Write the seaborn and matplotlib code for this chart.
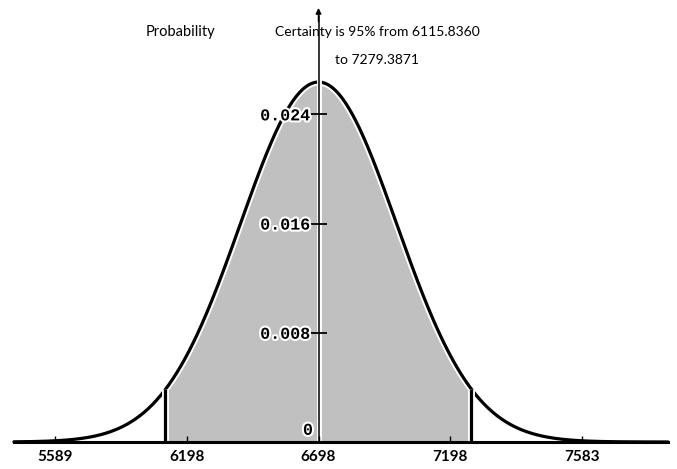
import numpy as np
import matplotlib
matplotlib.use("Agg")
import matplotlib.pyplot as plt
import matplotlib.patheffects as pe
import seaborn as sns

# ---- data ----
mean_value = 6698.0
sd_value = 296.8
peak_probability = 0.02637
certainty_low = 6115.8360
certainty_high = 7279.3871
x_tick_positions = [5698, 6198, 6698, 7198, 7698]
x_tick_labels = ["5589", "6198", "6698", "7198", "7583"]
y_tick_values = [0.008, 0.016, 0.024]
y_tick_labels = ["0.008", "0.016", "0.024"]
curve_start, curve_end = 5540, 8027

sns.set_theme(style="white")
plt.rcParams["font.family"] = ["Lato", "DejaVu Sans"]

fig = plt.figure(figsize=(6.77, 4.69), dpi=100)
ax = fig.add_axes([0, 0, 1, 1])
ax.set_facecolor("white")
ax.set_axisbelow(False)

xs = np.linspace(curve_start, curve_end, 800)
ys = peak_probability * np.exp(-0.5 * ((xs - mean_value) / sd_value) ** 2)
mask = (xs >= certainty_low) & (xs <= certainty_high)

ax.fill_between(xs[mask], 0, ys[mask], facecolor="#c0c0c0", edgecolor="white",
                linewidth=1.5, zorder=1)

halo = [pe.Stroke(linewidth=5.0, foreground="white"), pe.Normal()]
sns.lineplot(x=xs, y=ys, ax=ax, color="black", linewidth=2.3, zorder=2,
             path_effects=halo)

for b in (certainty_low, certainty_high):
    yb = peak_probability * np.exp(-0.5 * ((b - mean_value) / sd_value) ** 2)
    ax.plot([b, b], [0, yb], color="black", linewidth=2.3, zorder=2,
            path_effects=halo, solid_capstyle="butt")

ax.set_xlim(5487, 8061)
ax.set_ylim(-0.001978, 0.03238)

for s in ("top", "right"):
    ax.spines[s].set_visible(False)
ax.spines["bottom"].set_position(("data", 0))
ax.spines["bottom"].set_bounds(curve_start, curve_end)
ax.spines["bottom"].set_linewidth(2.2)
ax.spines["bottom"].set_color("black")
ax.spines["left"].set_position(("data", mean_value))
ax.spines["left"].set_bounds(0, 0.0312)
ax.spines["left"].set_linewidth(1.1)
ax.spines["left"].set_color("black")
ax.spines["left"].set_path_effects([pe.Stroke(linewidth=3.5, foreground="white"), pe.Normal()])

ax.annotate("", xy=(mean_value, 0.0318), xytext=(mean_value, 0.0308),
            arrowprops=dict(arrowstyle="-|>", color="black", lw=1.1,
                            mutation_scale=8, shrinkA=0, shrinkB=0))

ax.set_xticks(x_tick_positions)
ax.set_xticklabels(x_tick_labels, fontweight="bold", fontsize=11)
ax.tick_params(axis="x", bottom=True, direction="in", length=4, width=1, pad=6,
               colors="black")

ax.set_yticks(y_tick_values)
ax.set_yticklabels(y_tick_labels, fontfamily="Liberation Mono", fontweight="bold",
                   fontsize=12)
ax.tick_params(axis="y", left=True, direction="inout", length=11, width=1.3, pad=0.5,
               colors="black")
for lbl in ax.get_yticklabels():
    lbl.set_path_effects([pe.withStroke(linewidth=3, foreground="white")])

ax.annotate("0", xy=(mean_value, 0), xytext=(-4, 3), textcoords="offset points",
            ha="right", va="bottom", fontfamily="Liberation Mono",
            fontweight="bold", fontsize=12, color="black", zorder=5,
            path_effects=[pe.withStroke(linewidth=3, foreground="white")])

fig.text(180 / 677, 1 - 32 / 469, "Probability", ha="center", va="center",
         fontsize=10.5, color="black")
fig.text(377 / 677, 1 - 32 / 469, "Certainty is 95% from 6115.8360",
         ha="center", va="center", fontsize=10, color="black")
fig.text(377 / 677, 1 - 60 / 469, "to 7279.3871",
         ha="center", va="center", fontsize=10, color="black")

fig.savefig("out.png", dpi=100, facecolor="white")
